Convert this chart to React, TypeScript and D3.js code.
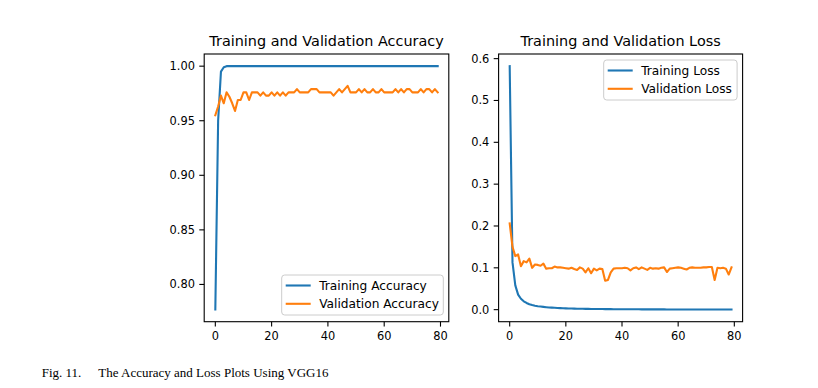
import React from "react";
import * as d3 from "d3";

const epochs: number[] = Array.from({ length: 80 }, (_, i) => i);

const trainAcc: number[] = [
  0.777, 0.95, 0.995, 0.999, 1.0, 1.0, 1.0, 1.0, 1.0, 1.0,
  1.0, 1.0, 1.0, 1.0, 1.0, 1.0, 1.0, 1.0, 1.0, 1.0,
  1.0, 1.0, 1.0, 1.0, 1.0, 1.0, 1.0, 1.0, 1.0, 1.0,
  1.0, 1.0, 1.0, 1.0, 1.0, 1.0, 1.0, 1.0, 1.0, 1.0,
  1.0, 1.0, 1.0, 1.0, 1.0, 1.0, 1.0, 1.0, 1.0, 1.0,
  1.0, 1.0, 1.0, 1.0, 1.0, 1.0, 1.0, 1.0, 1.0, 1.0,
  1.0, 1.0, 1.0, 1.0, 1.0, 1.0, 1.0, 1.0, 1.0, 1.0,
  1.0, 1.0, 1.0, 1.0, 1.0, 1.0, 1.0, 1.0, 1.0, 1.0,
];

const valAcc: number[] = [
  0.955, 0.963, 0.973, 0.966, 0.976, 0.972, 0.966, 0.959, 0.969, 0.969,
  0.976, 0.976, 0.969, 0.976, 0.976, 0.976, 0.973, 0.976, 0.973, 0.973,
  0.976, 0.973, 0.976, 0.973, 0.976, 0.973, 0.976, 0.976, 0.976, 0.979,
  0.976, 0.976, 0.976, 0.976, 0.979, 0.979, 0.979, 0.976, 0.976, 0.976,
  0.976, 0.976, 0.973, 0.976, 0.979, 0.976, 0.979, 0.982, 0.976, 0.976,
  0.976, 0.979, 0.976, 0.979, 0.976, 0.976, 0.979, 0.976, 0.976, 0.979,
  0.976, 0.976, 0.976, 0.976, 0.979, 0.976, 0.979, 0.976, 0.979, 0.979,
  0.976, 0.976, 0.976, 0.979, 0.976, 0.979, 0.979, 0.976, 0.979, 0.976,
];

const trainLoss: number[] = [
  0.582, 0.113, 0.058, 0.036, 0.026, 0.020, 0.016, 0.013, 0.011, 0.0095,
  0.0083, 0.0074, 0.0066, 0.0059, 0.0053, 0.0048, 0.0044, 0.0040, 0.0037, 0.0034,
  0.0031, 0.0029, 0.0027, 0.0025, 0.0023, 0.0022, 0.0020, 0.0019, 0.0018, 0.0017,
  0.0016, 0.0015, 0.0014, 0.0014, 0.0013, 0.0012, 0.0012, 0.0011, 0.0011, 0.0010,
  0.0010, 0.0009, 0.0009, 0.0009, 0.0008, 0.0008, 0.0008, 0.0007, 0.0007, 0.0007,
  0.0007, 0.0006, 0.0006, 0.0006, 0.0006, 0.0006, 0.0005, 0.0005, 0.0005, 0.0005,
  0.0005, 0.0005, 0.0004, 0.0004, 0.0004, 0.0004, 0.0004, 0.0004, 0.0004, 0.0004,
  0.0003, 0.0003, 0.0003, 0.0003, 0.0003, 0.0003, 0.0003, 0.0003, 0.0003, 0.0003,
];

const valLoss: number[] = [
  0.206, 0.150, 0.128, 0.132, 0.104, 0.116, 0.113, 0.122, 0.100, 0.108,
  0.107, 0.105, 0.110, 0.098, 0.099, 0.099, 0.103, 0.101, 0.101, 0.100,
  0.099, 0.098, 0.100, 0.097, 0.095, 0.101, 0.098, 0.089, 0.099, 0.087,
  0.098, 0.094, 0.098, 0.097, 0.069, 0.071, 0.089, 0.098, 0.099, 0.099,
  0.099, 0.100, 0.099, 0.094, 0.099, 0.101, 0.097, 0.101, 0.098, 0.095,
  0.100, 0.098, 0.099, 0.098, 0.100, 0.101, 0.090, 0.098, 0.099, 0.100,
  0.101, 0.100, 0.098, 0.096, 0.100, 0.101, 0.100, 0.100, 0.100, 0.101,
  0.101, 0.102, 0.102, 0.071, 0.100, 0.099, 0.100, 0.098, 0.084, 0.101,
];

const xTicks: number[] = [0, 20, 40, 60, 80];
const accTicks: number[] = [0.8, 0.85, 0.9, 0.95, 1.0];
const lossTicks: number[] = [0.0, 0.1, 0.2, 0.3, 0.4, 0.5, 0.6];

const accTitle = "Training and Validation Accuracy";
const lossTitle = "Training and Validation Loss";
const accLabels = ["Training Accuracy", "Validation Accuracy"];
const lossLabels = ["Training Loss", "Validation Loss"];
const caption = "Fig. 11.";
const captionText = "The Accuracy and Loss Plots Using VGG16";

const BLUE = "#1f77b4";
const ORANGE = "#ff7f0e";
const FONT = "'DejaVu Sans', sans-serif";

function padDomain(vals: number[]): [number, number] {
  const lo = d3.min(vals) as number;
  const hi = d3.max(vals) as number;
  const m = (hi - lo) * 0.05;
  return [lo - m, hi + m];
}

type PanelProps = {
  left: number;
  right: number;
  top: number;
  bottom: number;
  title: string;
  series: number[][];
  labels: string[];
  yTicks: number[];
  yFmt: (v: number) => string;
  legendPos: "lower right" | "upper right";
  legendWidth: number;
};

function Panel(p: PanelProps) {
  const all = p.series.flat();
  const x = d3.scaleLinear().domain(padDomain(epochs)).range([p.left, p.right]);
  const y = d3.scaleLinear().domain(padDomain(all)).range([p.bottom, p.top]);
  const colors = [BLUE, ORANGE];
  const line = d3
    .line<number>()
    .x((_, i) => x(epochs[i]))
    .y((d) => y(d));
  const tickLen = 4.9;
  const fs = 11.4;
  const lfs = 12.2;
  const lh = 40;
  const lw = p.legendWidth;
  const lx = p.right - 5.5 - lw;
  const ly = p.legendPos === "lower right" ? p.bottom - 6.7 - lh : p.top + 6;
  return (
    <g>
      <text
        x={(p.left + p.right) / 2}
        y={p.top - 8}
        textAnchor="middle"
        fontFamily={FONT}
        fontSize={14.4}
        fill="#000"
      >
        {p.title}
      </text>
      <defs>
        <clipPath id={"clip" + Math.round(p.left)}>
          <rect x={p.left} y={p.top} width={p.right - p.left} height={p.bottom - p.top} />
        </clipPath>
      </defs>
      <g clipPath={`url(#clip${Math.round(p.left)})`}>
        {p.series.map((s, k) => (
          <path
            key={k}
            d={line(s) || ""}
            fill="none"
            stroke={colors[k]}
            strokeWidth={2.1}
            strokeLinejoin="round"
            strokeLinecap="square"
          />
        ))}
      </g>
      <rect
        x={p.left}
        y={p.top}
        width={p.right - p.left}
        height={p.bottom - p.top}
        fill="none"
        stroke="#000"
        strokeWidth={1.1}
      />
      {xTicks.map((t) => (
        <g key={"x" + t}>
          <line x1={x(t)} x2={x(t)} y1={p.bottom} y2={p.bottom + tickLen} stroke="#000" strokeWidth={1.1} />
          <text
            x={x(t)}
            y={p.bottom + 18.5}
            textAnchor="middle"
            fontFamily={FONT}
            fontSize={fs}
            fill="#000"
          >
            {t}
          </text>
        </g>
      ))}
      {p.yTicks.map((t) => (
        <g key={"y" + t}>
          <line x1={p.left - tickLen} x2={p.left} y1={y(t)} y2={y(t)} stroke="#000" strokeWidth={1.1} />
          <text
            x={p.left - 9.3}
            y={y(t) + 4}
            textAnchor="end"
            fontFamily={FONT}
            fontSize={fs}
            fill="#000"
          >
            {p.yFmt(t)}
          </text>
        </g>
      ))}
      <g>
        <rect
          x={lx}
          y={ly}
          width={lw}
          height={lh}
          rx={3}
          ry={3}
          fill="#fff"
          fillOpacity={0.8}
          stroke="#cccccc"
          strokeWidth={1}
        />
        {p.labels.map((lab, k) => {
          const cy = ly + 10.5 + k * 18.3;
          return (
            <g key={lab}>
              <line x1={lx + 4} x2={lx + 29} y1={cy} y2={cy} stroke={colors[k]} strokeWidth={2.1} />
              <text x={lx + 37.5} y={cy + 4.3} fontFamily={FONT} fontSize={lfs} fill="#000">
                {lab}
              </text>
            </g>
          );
        })}
      </g>
    </g>
  );
}

export default function App() {
  return (
    <svg
      width={818}
      height={388}
      style={{ position: "absolute", left: 0, top: 0, background: "#fff" }}
    >
      <rect x={0} y={0} width={818} height={388} fill="#fff" />
      <Panel
        left={204.2}
        right={448.8}
        top={54}
        bottom={321.7}
        title={accTitle}
        series={[trainAcc, valAcc]}
        labels={accLabels}
        yTicks={accTicks}
        yFmt={d3.format(".2f")}
        legendPos="lower right"
        legendWidth={161.6}
      />
      <Panel
        left={498.6}
        right={742.6}
        top={54}
        bottom={321.7}
        title={lossTitle}
        series={[trainLoss, valLoss]}
        labels={lossLabels}
        yTicks={lossTicks}
        yFmt={d3.format(".1f")}
        legendPos="upper right"
        legendWidth={133.4}
      />
      <text x={41.7} y={377} fontFamily="'Liberation Serif', 'Times New Roman', serif" fontSize={13} fill="#000">
        {caption}
      </text>
      <text x={98.3} y={377} fontFamily="'Liberation Serif', 'Times New Roman', serif" fontSize={13} fill="#000">
        {captionText}
      </text>
    </svg>
  );
}
